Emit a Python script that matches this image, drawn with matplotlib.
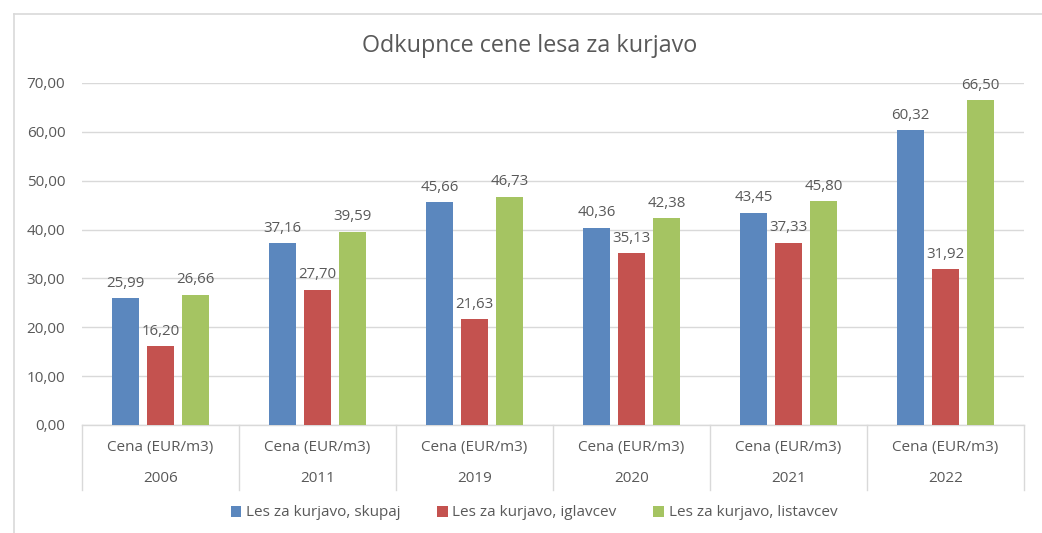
import matplotlib
matplotlib.use("Agg")
import matplotlib.pyplot as plt
from matplotlib.lines import Line2D
from matplotlib.patches import Patch
import numpy as np

years = ["2006", "2011", "2019", "2020", "2021", "2022"]
sub_label = "Cena (EUR/m3)"
series_names = ["Les za kurjavo, skupaj", "Les za kurjavo, iglavcev", "Les za kurjavo, listavcev"]
skupaj = [25.99, 37.16, 45.66, 40.36, 43.45, 60.32]
iglavcev = [16.20, 27.70, 21.63, 35.13, 37.33, 31.92]
listavcev = [26.66, 39.59, 46.73, 42.38, 45.80, 66.50]
colors = ["#5B87BE", "#C4524F", "#A5C462"]
title = "Odkupnce cene lesa za kurjavo"

plt.rcParams['font.family'] = ['Open Sans', 'DejaVu Sans']
txt = "#595959"
W, H = 1042, 533
fig = plt.figure(figsize=(W / 100, H / 100), dpi=100)

def fx(px):
    return px / W

def fy(py):
    return 1 - py / H

left, right, top, bottom = 82, 1024, 83, 425
ax = fig.add_axes([fx(left), fy(bottom), fx(right) - fx(left), fy(top) - fy(bottom)])

n = len(years)
x = np.arange(n)
bw = 0.172
step = 0.223
for i, (vals, c) in enumerate(zip([skupaj, iglavcev, listavcev], colors)):
    pos = x + (i - 1) * step
    ax.bar(pos, vals, width=bw, color=c, zorder=3)
    for p, v in zip(pos, vals):
        ax.text(p, v + 1.5, f"{v:.2f}".replace(".", ","), ha="center", va="bottom",
                fontsize=10.8, color=txt, zorder=4)

ax.set_xlim(-0.5, n - 0.5)
ax.set_ylim(0, 70)
yt = np.arange(0, 71, 10)
ax.set_yticks(yt)
ax.set_yticklabels([f"{v:.2f}".replace(".", ",") for v in yt], color=txt, fontsize=11)
ax.tick_params(axis="y", length=0, pad=12)
ax.set_xticks([])
ax.grid(axis="y", color="#D9D9D9", linewidth=1, zorder=0)
for s in ["top", "right", "left"]:
    ax.spines[s].set_visible(False)
ax.spines["bottom"].set_color("#D9D9D9")
ax.spines["bottom"].set_linewidth(1)

# category separators and labels
trans = ax.get_xaxis_transform()
sep_bottom = (bottom - 490) / (bottom - top)
for b in np.arange(-0.5, n, 1.0):
    ax.add_line(Line2D([b, b], [0, sep_bottom], transform=trans, color="#D9D9D9",
                       linewidth=1, clip_on=False))
lab1 = (bottom - 447) / (bottom - top)
lab2 = (bottom - 479) / (bottom - top)
for i, yv in enumerate(years):
    ax.text(i, lab1, sub_label, transform=trans, ha="center", va="center", fontsize=11, color=txt)
    ax.text(i, lab2, yv, transform=trans, ha="center", va="center", fontsize=11, color=txt)

# title
fig.text(fx(530), fy(46), title, ha="center", va="center", fontsize=16.8, color=txt)

# outer border (left and top)
fig.add_artist(Line2D([fx(14), fx(14)], [fy(14), fy(533)], transform=fig.transFigure,
                      color="#D9D9D9", linewidth=1.2))
fig.add_artist(Line2D([fx(14), fx(1042)], [fy(14), fy(14)], transform=fig.transFigure,
                      color="#D9D9D9", linewidth=1.2))

handles = [Patch(facecolor=c, label=nm) for c, nm in zip(colors, series_names)]
fig.legend(handles=handles, loc="center", bbox_to_anchor=(fx(534), fy(513)), ncol=3,
           frameon=False, fontsize=11, labelcolor=txt, handlelength=0.7, handleheight=0.7,
           handletextpad=0.3, columnspacing=2.4)

fig.savefig("out.png", dpi=100)
